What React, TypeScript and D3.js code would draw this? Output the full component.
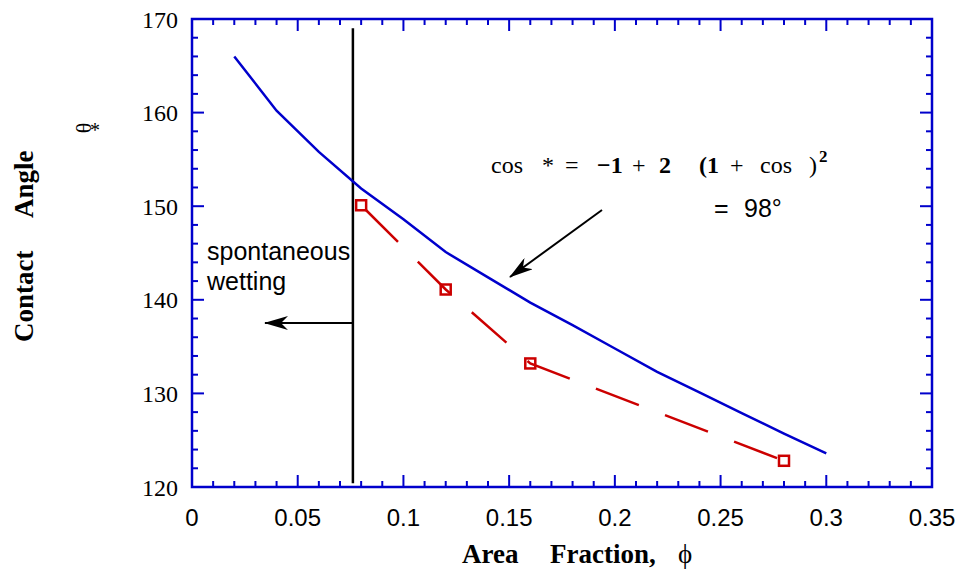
import React from 'react';
import * as d3 from 'd3';

// model curve (blue) and measured points (red)
const modelPhi = [0.02, 0.04, 0.06, 0.08, 0.1, 0.12, 0.14, 0.16, 0.18, 0.2, 0.22, 0.24, 0.26, 0.28, 0.3];
const modelAngle = [166, 160.2, 155.8, 151.9, 148.6, 145.1, 142.4, 139.7, 137.3, 134.8, 132.3, 130.1, 127.9, 125.7, 123.6];
const dataPhi = [0.08, 0.12, 0.16, 0.28];
const dataAngle = [150.1, 141.1, 133.2, 122.8];
const xTickLabels = ['0', '0.05', '0.1', '0.15', '0.2', '0.25', '0.3', '0.35'];
const yTickLabels = ['120', '130', '140', '150', '160', '170'];
const wettingPhi = 0.0761;

const W = 963;
const H = 572;
const margin = { top: 19, right: 31, bottom: 85, left: 192 };
const BLUE = '#0000cc';
const RED = '#cc0000';

export default function App() {
  const x = d3.scaleLinear().domain([0, 0.35]).range([margin.left, W - margin.right]);
  const y = d3.scaleLinear().domain([120, 170]).range([H - margin.bottom, margin.top]);
  const x0 = margin.left, x1 = W - margin.right, y0 = H - margin.bottom, y1 = margin.top;

  const line = d3.line<[number, number]>().x(d => x(d[0])).y(d => y(d[1]));
  const model = modelPhi.map((p, i) => [p, modelAngle[i]] as [number, number]);
  const meas = dataPhi.map((p, i) => [p, dataAngle[i]] as [number, number]);

  const xMinor = d3.range(0, 36).map(i => i / 100);
  const yMinor = d3.range(120, 171, 2);

  const serif = '"Liberation Serif", "Times New Roman", serif';
  const sans = '"Liberation Sans", Arial, sans-serif';

  return (
    <svg width={W} height={H} style={{ position: 'absolute', left: 0, top: 0, background: '#fff' }}>
      <defs>
        <marker id="arr" viewBox="0 0 24 14" refX="23" refY="7" markerWidth="24" markerHeight="14" markerUnits="userSpaceOnUse" orient="auto">
          <path d="M24,7 L0,0 L7,7 L0,14 Z" fill="#000" />
        </marker>
      </defs>

      {/* ticks */}
      <g stroke={BLUE} strokeWidth={2}>
        {xMinor.map((v, i) => {
          const len = i % 5 === 0 ? 12 : 6;
          return (
            <g key={'xt' + i}>
              <line x1={x(v)} x2={x(v)} y1={y0} y2={y0 - len} />
              <line x1={x(v)} x2={x(v)} y1={y1} y2={y1 + len} />
            </g>
          );
        })}
        {yMinor.map((v, i) => {
          const len = (v % 10 === 0) ? 12 : 6;
          return (
            <g key={'yt' + i}>
              <line x1={x0} x2={x0 + len} y1={y(v)} y2={y(v)} />
              <line x1={x1} x2={x1 - len} y1={y(v)} y2={y(v)} />
            </g>
          );
        })}
      </g>
      <rect x={x0} y={y1} width={x1 - x0} height={y0 - y1} fill="none" stroke={BLUE} strokeWidth={2.5} />

      {/* tick labels */}
      {xTickLabels.map(t => (
        <text key={t} x={x(+t)} y={526} textAnchor="middle" fontFamily={sans} fontSize={24}>{t}</text>
      ))}
      {yTickLabels.map(t => (
        <text key={t} x={178} y={y(+t) + 8.5} textAnchor="end" fontFamily={serif} fontSize={24}>{t}</text>
      ))}

      {/* wetting limit */}
      <line x1={x(wettingPhi)} x2={x(wettingPhi)} y1={y(169)} y2={y(120.4)} stroke="#000" strokeWidth={2.5} />

      {/* model */}
      <path d={line(model) || ''} fill="none" stroke={BLUE} strokeWidth={2.5} />

      {/* measurements */}
      <path d={line(meas) || ''} fill="none" stroke={RED} strokeWidth={2.5} strokeDasharray="46,28" strokeDashoffset={-6} />
      {meas.map((d, i) => (
        <rect key={i} x={x(d[0]) - 5} y={y(d[1]) - 5} width={10} height={10} fill="none" stroke={RED} strokeWidth={2.5} />
      ))}

      {/* arrows */}
      <line x1={x(wettingPhi)} y1={323} x2={265} y2={323} stroke="#000" strokeWidth={2} markerEnd="url(#arr)" />
      <line x1={602} y1={210} x2={510} y2={277} stroke="#000" strokeWidth={2} markerEnd="url(#arr)" />

      {/* annotations */}
      <text x={207} y={260} fontFamily={sans} fontSize={25}>spontaneous</text>
      <text x={207} y={290} fontFamily={sans} fontSize={25}>wetting</text>

      <g fontFamily={serif} fontSize={24}>
        <text x={491} y={173}>cos</text>
        <text x={542} y={173}>*</text>
        <text x={565} y={173}>=</text>
        <text x={597} y={173} fontWeight="bold">−1</text>
        <text x={632} y={173}>+</text>
        <text x={659} y={173} fontWeight="bold">2</text>
        <text x={699} y={173} fontWeight="bold">(1</text>
        <text x={730} y={173}>+</text>
        <text x={760} y={173}>cos</text>
        <text x={809} y={173}>)</text>
        <text x={819} y={162} fontSize={17} fontWeight="bold">2</text>
      </g>
      <text x={714} y={217} fontFamily={sans} fontSize={25}>=</text>
      <text x={744} y={217} fontFamily={sans} fontSize={25}>98°</text>

      {/* axis titles */}
      <g fontFamily={serif} fontWeight="bold" fontSize={27}>
        <text transform="translate(33,342) rotate(-90)">Contact</text>
        <text transform="translate(33,218) rotate(-90)">Angle</text>
      </g>
      <text transform="translate(91,128) rotate(-90)" textAnchor="middle" fontFamily={serif} fontSize={22}>θ</text>
      <text x={90} y={137} fontFamily={serif} fontSize={20}>*</text>

      <g fontFamily={serif} fontSize={27}>
        <text x={462} y={563} fontWeight="bold">Area</text>
        <text x={550} y={563} fontWeight="bold">Fraction,</text>
        <text x={678} y={563}>ϕ</text>
      </g>
    </svg>
  );
}
